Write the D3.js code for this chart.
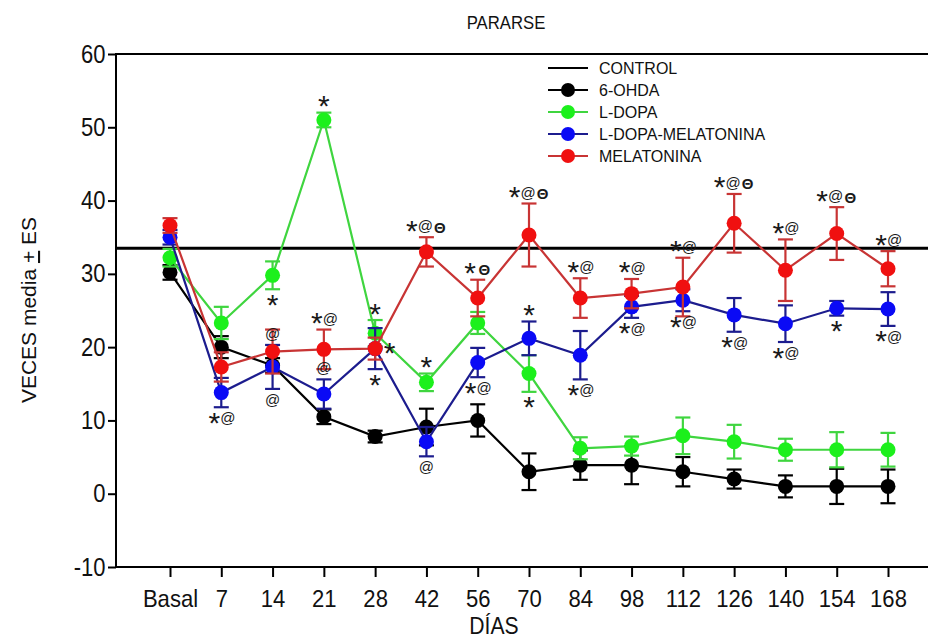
<!DOCTYPE html>
<html>
<head>
<meta charset="utf-8">
<script src="https://cdn.jsdelivr.net/npm/d3@7/dist/d3.min.js"></script>
<style>
  html, body { margin: 0; padding: 0; background: #fff; }
  svg { display: block; font-family: "Liberation Sans", Arial, sans-serif; }
</style>
</head>
<body>
<svg id="chart" width="928" height="639"></svg>
<script>
// Sampling days (x categories)
const days = ["Basal", "7", "14", "21", "28", "42", "56", "70", "84", "98", "112", "126", "140", "154", "168"];
const yTicks = [-10, 0, 10, 20, 30, 40, 50, 60];

// Control reference level
const controlValue = 33.5;

// Group means and standard errors
const ohdaMean   = [30.2, 20.0, 17.5, 10.5, 7.8, 9.1, 10.0, 3.0, 3.9, 3.9, 3.0, 2.0, 1.0, 1.0, 1.0];
const ohdaSE     = [1.0, 1.5, 1.0, 1.0, 0.8, 2.5, 2.2, 2.5, 2.0, 2.6, 2.0, 1.3, 1.5, 2.4, 2.3];

const ldopaMean  = [32.2, 23.3, 29.8, 51.0, 21.9, 15.2, 23.3, 16.4, 6.2, 6.5, 7.9, 7.1, 6.0, 6.0, 6.0];
const ldopaSE    = [1.2, 2.2, 1.9, 1.0, 1.8, 1.2, 1.5, 2.5, 1.5, 1.3, 2.5, 2.3, 1.5, 2.4, 2.3];

const ldmMean    = [35.0, 13.8, 17.3, 13.6, 19.8, 7.1, 17.9, 21.2, 18.9, 25.5, 26.4, 24.4, 23.2, 25.3, 25.2];
const ldmSE      = [1.0, 2.0, 3.0, 2.0, 2.8, 2.0, 2.0, 2.3, 3.3, 1.5, 1.5, 2.3, 2.5, 1.0, 2.3];

const melMean    = [36.6, 17.3, 19.4, 19.7, 19.8, 33.0, 26.7, 35.3, 26.7, 27.3, 28.2, 36.9, 30.5, 35.5, 30.7];
const melSE      = [1.0, 2.0, 3.0, 2.7, 1.5, 2.0, 2.5, 4.3, 2.7, 2.0, 4.0, 4.0, 4.2, 3.6, 2.4];

const seriesNames = ["6-OHDA", "L-DOPA", "L-DOPA-MELATONINA", "MELATONINA"];

// Significance marks: which group, which day, on which side of its error bar
const marks = [
  { s: "L-DOPA-MELATONINA", d: "7",   side: "below", t: "*@" },
  { s: "L-DOPA",            d: "14",  side: "below", t: "*" },
  { s: "L-DOPA-MELATONINA", d: "14",  side: "above", t: "@" },
  { s: "L-DOPA-MELATONINA", d: "14",  side: "below", t: "@" },
  { s: "L-DOPA",            d: "21",  side: "above", t: "*" },
  { s: "MELATONINA",        d: "21",  side: "above", t: "*@" },
  { s: "L-DOPA-MELATONINA", d: "21",  side: "above", t: "@" },
  { s: "L-DOPA",            d: "28",  side: "above", t: "*" },
  { s: "MELATONINA",        d: "28",  side: "right", t: "*" },
  { s: "L-DOPA-MELATONINA", d: "28",  side: "below", t: "*" },
  { s: "MELATONINA",        d: "42",  side: "above", t: "*@Θ" },
  { s: "L-DOPA",            d: "42",  side: "above", t: "*" },
  { s: "L-DOPA-MELATONINA", d: "42",  side: "below", t: "@" },
  { s: "MELATONINA",        d: "56",  side: "above", t: "*Θ" },
  { s: "L-DOPA-MELATONINA", d: "56",  side: "below", t: "*@" },
  { s: "MELATONINA",        d: "70",  side: "above", t: "*@Θ" },
  { s: "L-DOPA-MELATONINA", d: "70",  side: "above", t: "*" },
  { s: "L-DOPA",            d: "70",  side: "below", t: "*" },
  { s: "MELATONINA",        d: "84",  side: "above", t: "*@" },
  { s: "L-DOPA-MELATONINA", d: "84",  side: "below", t: "*@" },
  { s: "MELATONINA",        d: "98",  side: "above", t: "*@" },
  { s: "L-DOPA-MELATONINA", d: "98",  side: "below", t: "*@" },
  { s: "MELATONINA",        d: "112", side: "above", t: "*@" },
  { s: "L-DOPA-MELATONINA", d: "112", side: "below", t: "*@" },
  { s: "MELATONINA",        d: "126", side: "above", t: "*@Θ" },
  { s: "L-DOPA-MELATONINA", d: "126", side: "below", t: "*@" },
  { s: "MELATONINA",        d: "140", side: "above", t: "*@" },
  { s: "L-DOPA-MELATONINA", d: "140", side: "below", t: "*@" },
  { s: "MELATONINA",        d: "154", side: "above", t: "*@Θ" },
  { s: "L-DOPA-MELATONINA", d: "154", side: "below", t: "*" },
  { s: "MELATONINA",        d: "168", side: "above", t: "*@" },
  { s: "L-DOPA-MELATONINA", d: "168", side: "below", t: "*@" }
];

// Group table built from the arrays above
const groups = [
  { name: seriesNames[0], mean: ohdaMean,  se: ohdaSE,  line: "#000000", fill: "#000000" },
  { name: seriesNames[1], mean: ldopaMean, se: ldopaSE, line: "#3fd53f", fill: "#1cf01c" },
  { name: seriesNames[2], mean: ldmMean,   se: ldmSE,   line: "#1c1c8e", fill: "#0a0af5" },
  { name: seriesNames[3], mean: melMean,   se: melSE,   line: "#c83434", fill: "#f01010" }
];
const byName = Object.fromEntries(groups.map(g => [g.name, g]));

const svg = d3.select("#chart");
const plotLeft = 116, plotRight = 928, plotTop = 54, plotBottom = 567;
const narrow = 0.88;   // condensed look of the axis lettering

const x = d3.scalePoint().domain(days).range([170, 888]);
const y = d3.scaleLinear().domain([-10, 60]).range([plotBottom, plotTop]);

// Title
svg.append("text")
  .attr("transform", `translate(506,29) scale(${narrow},1)`)
  .attr("text-anchor", "middle")
  .attr("font-size", 19)
  .attr("fill", "#111")
  .text("PARARSE");

// Y axis
const yAxis = svg.append("g")
  .attr("transform", `translate(${plotLeft},0)`)
  .call(d3.axisLeft(y).tickValues(yTicks).tickSize(8).tickPadding(4).tickFormat(d => String(d)));
yAxis.select(".domain").remove();
yAxis.selectAll(".tick line").attr("stroke", "#000").attr("stroke-width", 2);
yAxis.selectAll(".tick text").attr("font-size", 25).attr("fill", "#111")
  .attr("font-family", "Liberation Sans, Arial, sans-serif")
  .attr("transform", `scale(${narrow},1)`);

// X axis
const xAxis = svg.append("g")
  .attr("transform", `translate(0,${plotBottom})`)
  .call(d3.axisBottom(x).tickSize(10).tickPadding(13));
xAxis.select(".domain").remove();
xAxis.selectAll(".tick line").attr("stroke", "#000").attr("stroke-width", 2);
xAxis.selectAll(".tick text").attr("font-size", 24).attr("fill", "#111")
  .attr("font-family", "Liberation Sans, Arial, sans-serif")
  .attr("transform", `scale(0.92,1)`);

// Frame lines: left, bottom and top
svg.append("line").attr("x1", plotLeft).attr("x2", plotLeft).attr("y1", plotTop - 1).attr("y2", plotBottom + 1)
  .attr("stroke", "#000").attr("stroke-width", 2);
svg.append("line").attr("x1", plotLeft).attr("x2", plotRight).attr("y1", plotBottom).attr("y2", plotBottom)
  .attr("stroke", "#000").attr("stroke-width", 2);
svg.append("line").attr("x1", plotLeft).attr("x2", plotRight).attr("y1", plotTop).attr("y2", plotTop)
  .attr("stroke", "#000").attr("stroke-width", 2);

// Axis titles
svg.append("text")
  .attr("transform", `translate(494,634) scale(0.92,1)`)
  .attr("text-anchor", "middle")
  .attr("font-size", 23).attr("fill", "#111")
  .text("DÍAS");

const yTitle = svg.append("text")
  .attr("transform", "translate(36,310) rotate(-90)")
  .attr("text-anchor", "middle")
  .attr("font-size", 21).attr("fill", "#111");
yTitle.append("tspan").text("VECES media ");
yTitle.append("tspan").attr("text-decoration", "underline").text("+");
yTitle.append("tspan").text(" ES");

// Control level
svg.append("line")
  .attr("x1", plotLeft).attr("x2", plotRight)
  .attr("y1", y(controlValue)).attr("y2", y(controlValue))
  .attr("stroke", "#000").attr("stroke-width", 3);

// Groups: line, error bars, markers
const capHalf = 7.5;
const plot = svg.append("g");
groups.forEach(g => {
  const pts = days.map((d, i) => ({ d, m: g.mean[i], e: g.se[i] }));
  const layer = plot.append("g");

  layer.append("path")
    .datum(pts)
    .attr("fill", "none")
    .attr("stroke", g.line)
    .attr("stroke-width", 2.2)
    .attr("d", d3.line().x(p => x(p.d)).y(p => y(p.m)));

  const eb = layer.selectAll(".eb").data(pts).join("g")
    .attr("class", "eb")
    .attr("stroke", g.line).attr("stroke-width", 2.2);
  eb.append("line")
    .attr("x1", p => x(p.d)).attr("x2", p => x(p.d))
    .attr("y1", p => y(p.m + p.e)).attr("y2", p => y(p.m - p.e));
  eb.append("line")
    .attr("x1", p => x(p.d) - capHalf).attr("x2", p => x(p.d) + capHalf)
    .attr("y1", p => y(p.m + p.e)).attr("y2", p => y(p.m + p.e));
  eb.append("line")
    .attr("x1", p => x(p.d) - capHalf).attr("x2", p => x(p.d) + capHalf)
    .attr("y1", p => y(p.m - p.e)).attr("y2", p => y(p.m - p.e));

  layer.selectAll("circle").data(pts).join("circle")
    .attr("cx", p => x(p.d)).attr("cy", p => y(p.m))
    .attr("r", 7.5)
    .attr("fill", g.fill);
});

// Significance symbols: one glyph per text, each centred on a common line
const glyphStyle = {
  "*": { size: 30, weight: "normal", drop: 13.5, w: 13 },
  "@": { size: 15, weight: "normal", drop: 4,    w: 14 },
  "Θ": { size: 15, weight: "bold",   drop: 5.4,  w: 15 }
};
const markLayer = svg.append("g").attr("fill", "#1a1a1a");
marks.forEach(mk => {
  const g = byName[mk.s];
  const i = days.indexOf(mk.d);
  const cx = x(mk.d);
  const hi = y(g.mean[i] + g.se[i]);
  const lo = y(g.mean[i] - g.se[i]);
  const chars = [...mk.t];
  const total = d3.sum(chars, c => glyphStyle[c].w);
  let startX, cy;
  if (mk.side === "above") { startX = cx - total / 2; cy = hi - 10; }
  else if (mk.side === "below") { startX = cx - total / 2; cy = lo + 12; }
  else { startX = cx + 8; cy = y(g.mean[i]) + 1; }
  let px = startX;
  chars.forEach(ch => {
    const st = glyphStyle[ch];
    markLayer.append("text")
      .attr("x", px + st.w / 2)
      .attr("y", cy + st.drop)
      .attr("text-anchor", "middle")
      .attr("font-size", st.size)
      .attr("font-weight", st.weight)
      .text(ch);
    px += st.w;
  });
});

// Legend
const legend = svg.append("g").attr("font-size", 16).attr("fill", "#111");
const legendRows = [{ name: "CONTROL", line: "#000", fill: null }].concat(groups);
legendRows.forEach((r, k) => {
  const ly = 68 + k * 22;
  legend.append("line")
    .attr("x1", 548).attr("x2", 588).attr("y1", ly).attr("y2", ly)
    .attr("stroke", r.line).attr("stroke-width", 2);
  if (r.fill) legend.append("circle").attr("cx", 568).attr("cy", ly).attr("r", 7).attr("fill", r.fill);
  legend.append("text").attr("x", 599).attr("y", ly + 6).text(r.name);
});
</script>
</body>
</html>
